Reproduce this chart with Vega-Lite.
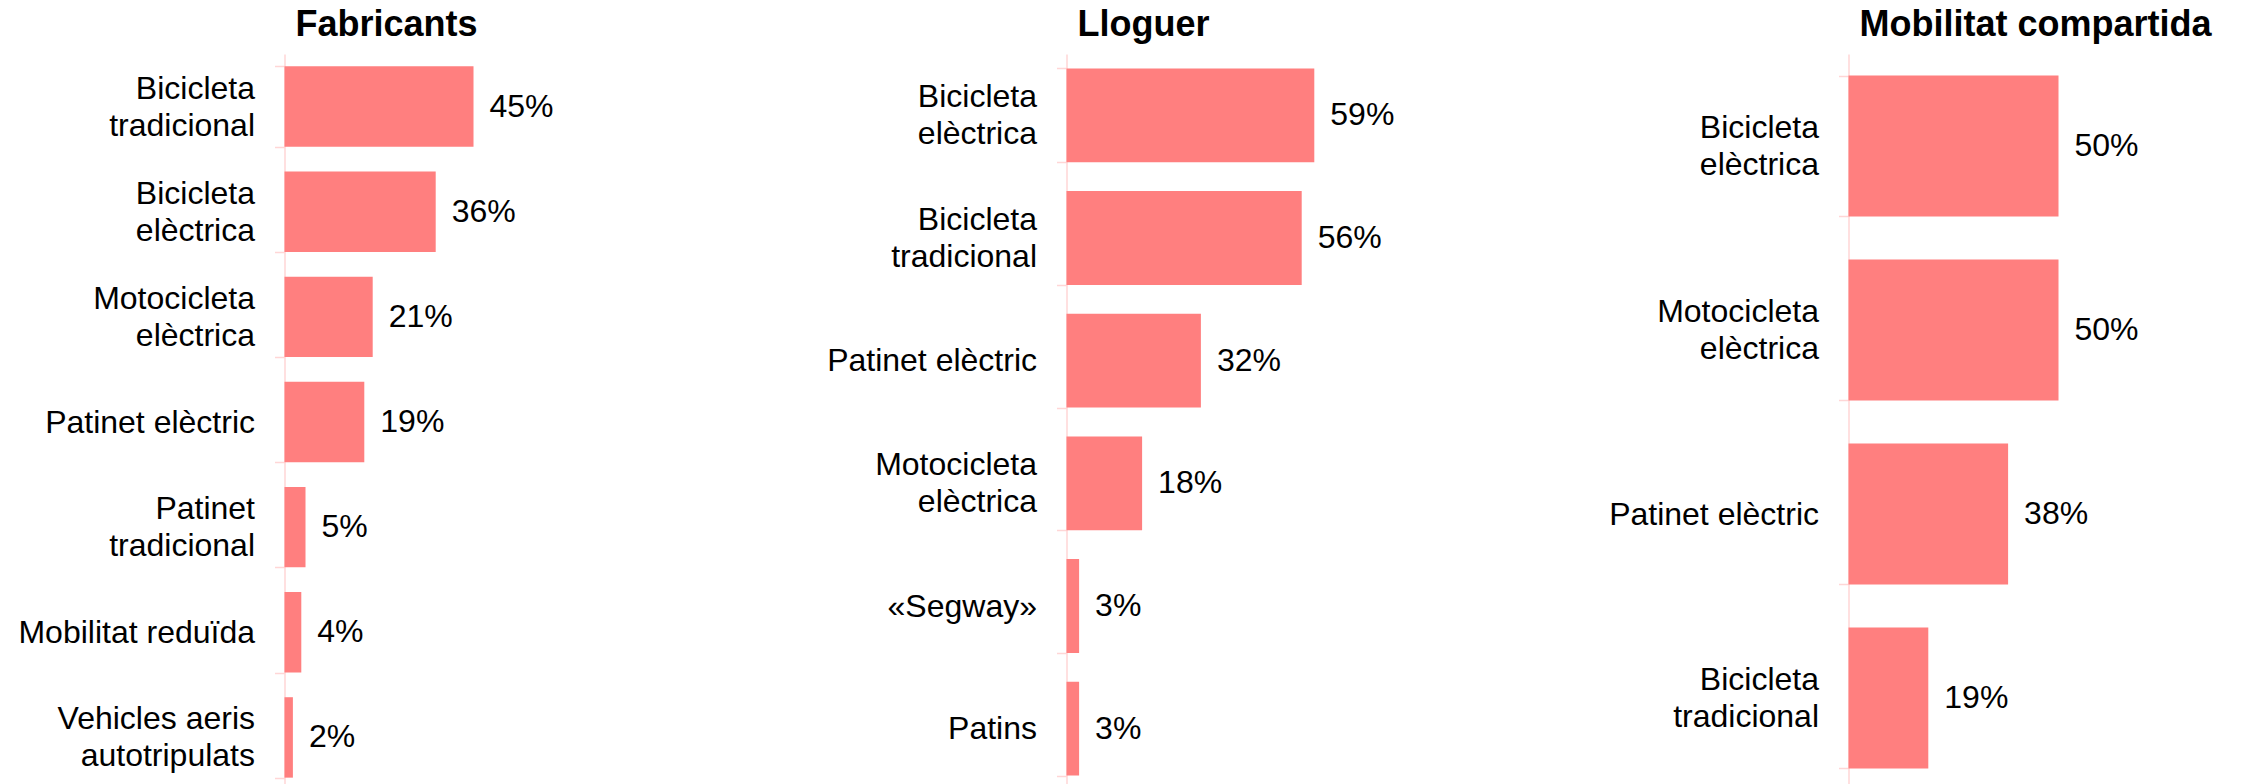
{
  "$schema": "https://vega.github.io/schema/vega-lite/v6.json",
  "background": "white",
  "padding": {"left": 17.5, "top": 7, "right": 0, "bottom": 0},
  "spacing": 206,
  "data": {
    "values": [
      {"panel": "Fabricants", "vehicle": "Bicicleta tradicional", "share": 0.45},
      {"panel": "Fabricants", "vehicle": "Bicicleta elèctrica", "share": 0.36},
      {"panel": "Fabricants", "vehicle": "Motocicleta elèctrica", "share": 0.21},
      {"panel": "Fabricants", "vehicle": "Patinet elèctric", "share": 0.19},
      {"panel": "Fabricants", "vehicle": "Patinet tradicional", "share": 0.05},
      {"panel": "Fabricants", "vehicle": "Mobilitat reduïda", "share": 0.04},
      {"panel": "Fabricants", "vehicle": "Vehicles aeris autotripulats", "share": 0.02},
      {"panel": "Lloguer", "vehicle": "Bicicleta elèctrica", "share": 0.59},
      {"panel": "Lloguer", "vehicle": "Bicicleta tradicional", "share": 0.56},
      {"panel": "Lloguer", "vehicle": "Patinet elèctric", "share": 0.32},
      {"panel": "Lloguer", "vehicle": "Motocicleta elèctrica", "share": 0.18},
      {"panel": "Lloguer", "vehicle": "«Segway»", "share": 0.03},
      {"panel": "Lloguer", "vehicle": "Patins", "share": 0.03},
      {"panel": "Mobilitat compartida", "vehicle": "Bicicleta elèctrica", "share": 0.50},
      {"panel": "Mobilitat compartida", "vehicle": "Motocicleta elèctrica", "share": 0.50},
      {"panel": "Mobilitat compartida", "vehicle": "Patinet elèctric", "share": 0.38},
      {"panel": "Mobilitat compartida", "vehicle": "Bicicleta tradicional", "share": 0.19}
    ]
  },
  "hconcat": [
    {
      "width": 336, "height": 736,
      "title": {"text": "Fabricants"},
      "transform": [{"filter": "datum.panel == 'Fabricants'"}],
      "encoding": {
        "y": {"field": "vehicle", "type": "nominal", "sort": null,
              "scale": {"paddingInner": 0.235, "paddingOuter": 0.1175},
              "axis": {"labelExpr": "length(datum.label) > 17 ? [slice(datum.label, 0, lastindexof(datum.label, ' ')), '\u200b', slice(datum.label, lastindexof(datum.label, ' ') + 1)] : ['\u200b', datum.label]"}},
        "x": {"field": "share", "type": "quantitative", "scale": {"domain": [0, 0.8], "nice": false}, "axis": null}
      },
      "layer": [
        {"mark": {"type": "bar", "color": "#ff7f7f"}},
        {"mark": {"type": "text", "align": "left", "baseline": "middle", "dx": 16, "fontSize": 32, "font": "Liberation Sans", "color": "#000"},
         "encoding": {"text": {"field": "share", "type": "quantitative", "format": ".0%"}}}
      ]
    },
    {
      "width": 336, "height": 736,
      "title": {"text": "Lloguer"},
      "transform": [{"filter": "datum.panel == 'Lloguer'"}],
      "encoding": {
        "y": {"field": "vehicle", "type": "nominal", "sort": null,
              "scale": {"paddingInner": 0.235, "paddingOuter": 0.1175},
              "axis": {"labelExpr": "length(datum.label) > 17 ? [slice(datum.label, 0, lastindexof(datum.label, ' ')), '\u200b', slice(datum.label, lastindexof(datum.label, ' ') + 1)] : ['\u200b', datum.label]"}},
        "x": {"field": "share", "type": "quantitative", "scale": {"domain": [0, 0.8], "nice": false}, "axis": null}
      },
      "layer": [
        {"mark": {"type": "bar", "color": "#ff7f7f"}},
        {"mark": {"type": "text", "align": "left", "baseline": "middle", "dx": 16, "fontSize": 32, "font": "Liberation Sans", "color": "#000"},
         "encoding": {"text": {"field": "share", "type": "quantitative", "format": ".0%"}}}
      ]
    },
    {
      "width": 336, "height": 736,
      "title": {"text": "Mobilitat compartida"},
      "transform": [{"filter": "datum.panel == 'Mobilitat compartida'"}],
      "encoding": {
        "y": {"field": "vehicle", "type": "nominal", "sort": null,
              "scale": {"paddingInner": 0.235, "paddingOuter": 0.1175},
              "axis": {"labelExpr": "length(datum.label) > 17 ? [slice(datum.label, 0, lastindexof(datum.label, ' ')), '\u200b', slice(datum.label, lastindexof(datum.label, ' ') + 1)] : ['\u200b', datum.label]"}},
        "x": {"field": "share", "type": "quantitative", "scale": {"domain": [0, 0.8], "nice": false}, "axis": null}
      },
      "layer": [
        {"mark": {"type": "bar", "color": "#ff7f7f"}},
        {"mark": {"type": "text", "align": "left", "baseline": "middle", "dx": 16, "fontSize": 32, "font": "Liberation Sans", "color": "#000"},
         "encoding": {"text": {"field": "share", "type": "quantitative", "format": ".0%"}}}
      ]
    }
  ],
  "config": {
    "view": {"stroke": null},
    "title": {"anchor": "start", "frame": "group", "font": "Liberation Sans", "fontSize": 36, "fontWeight": "bold", "color": "#000", "baseline": "alphabetic", "offset": -6, "dx": 11},
    "axisY": {
      "title": null,
      "domainColor": "#ffd6d6", "domainWidth": 1.5,
      "tickColor": "#ffd6d6", "tickSize": 10, "tickWidth": 1.5, "tickBand": "extent",
      "labelFont": "Liberation Sans", "labelFontSize": 32, "labelColor": "#000",
      "labelPadding": 20, "labelLimit": 400, "labelLineHeight": 18.5, "labelOffset": -18.5
    }
  }
}
